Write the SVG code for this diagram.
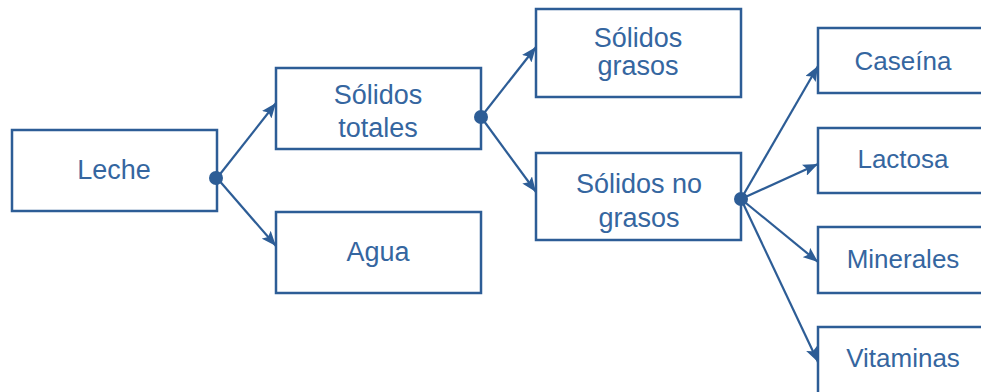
<svg xmlns="http://www.w3.org/2000/svg" width="981" height="392" viewBox="0 0 981 392">
<defs>
<marker id="ah" viewBox="0 0 15 12" refX="15" refY="6" markerWidth="15" markerHeight="12" markerUnits="userSpaceOnUse" orient="auto">
<path d="M0,0 L15,6 L0,12 L3,6 Z" fill="#2d5d96"/>
</marker>
<style>
.box{fill:#fff;stroke:#2d5d96;stroke-width:2.5}
.t{font-family:"Liberation Sans",Arial,sans-serif;font-size:26px;fill:#3566a0;text-anchor:middle}
.b{font-size:27px}
.c{stroke:#2d5d96;stroke-width:2.2;fill:none;marker-end:url(#ah)}
.d{fill:#2d5d96}
</style>
</defs>
<rect width="981" height="392" fill="#fff"/>
<g id="leche"><rect class="box" x="12" y="130" width="205" height="81"/><text class="t b" x="114" y="179">Leche</text></g>
<g id="solidos-totales"><rect class="box" x="276" y="68" width="205" height="81"/><text class="t b" x="378" y="104">Sólidos</text><text class="t b" x="378" y="137">totales</text></g>
<g id="agua"><rect class="box" x="276" y="212" width="205" height="81"/><text class="t b" x="378" y="261">Agua</text></g>
<g id="solidos-grasos"><rect class="box" x="536" y="9" width="205" height="88"/><text class="t b" x="638" y="47">Sólidos</text><text class="t b" x="638" y="75">grasos</text></g>
<g id="solidos-no-grasos"><rect class="box" x="536" y="153" width="205" height="87"/><text class="t b" x="639" y="193">Sólidos no</text><text class="t b" x="639" y="227">grasos</text></g>
<g id="caseina"><rect class="box" x="818" y="28" width="180" height="65"/><text class="t" x="903" y="70">Caseína</text></g>
<g id="lactosa"><rect class="box" x="818" y="128" width="180" height="65"/><text class="t" x="903" y="168">Lactosa</text></g>
<g id="minerales"><rect class="box" x="818" y="227" width="180" height="66"/><text class="t" x="903" y="268">Minerales</text></g>
<g id="vitaminas"><rect class="box" x="818" y="327" width="180" height="80"/><text class="t" x="903" y="367">Vitaminas</text></g>
<g id="connectors">
<line class="c" x1="217" y1="178" x2="276" y2="103"/>
<line class="c" x1="217" y1="178" x2="276" y2="246"/>
<line class="c" x1="481" y1="117" x2="536" y2="47"/>
<line class="c" x1="481" y1="117" x2="536" y2="192"/>
<line class="c" x1="741" y1="199" x2="818" y2="66"/>
<line class="c" x1="741" y1="199" x2="818" y2="164"/>
<line class="c" x1="741" y1="199" x2="818" y2="262"/>
<line class="c" x1="741" y1="199" x2="818" y2="362"/>
<circle class="d" cx="216" cy="178" r="7"/>
<circle class="d" cx="481" cy="117" r="7"/>
<circle class="d" cx="741" cy="199" r="7"/>
</g>
</svg>
